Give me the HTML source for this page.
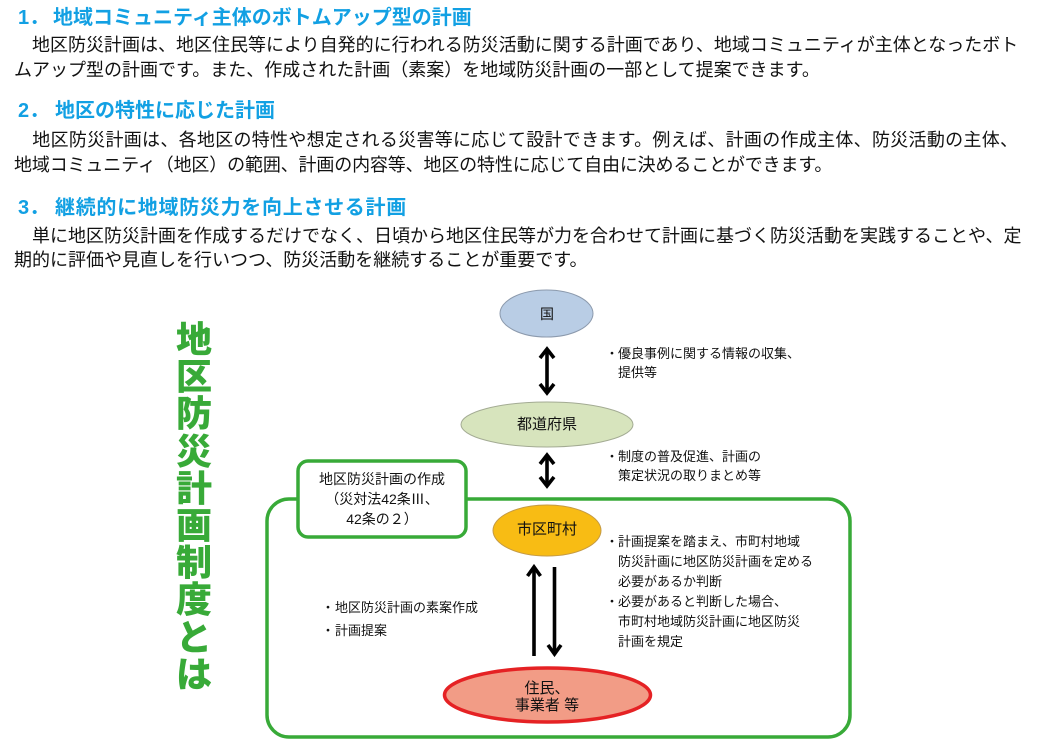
<!DOCTYPE html>
<html><head><meta charset="utf-8">
<style>
html,body{margin:0;padding:0;background:#fff;}
body{width:1042px;height:752px;position:relative;overflow:hidden;font-family:"Liberation Sans","Noto Sans CJK JP",sans-serif;color:#111;}
.a{position:absolute;white-space:nowrap;}
.h{font-size:20px;line-height:24px;color:#12a0e3;font-weight:bold;}
.bd{font-size:18px;line-height:25px;left:14px;width:1004px;}
.j{text-align:justify;text-align-last:justify;}
.s{font-size:13px;line-height:20px;}
.c{text-align:center;}
.t{font-size:36px;line-height:37.2px;font-weight:900;color:#38aa38;width:40px;text-align:center;}
</style></head><body>

<div class="a h" style="left:18px;top:5.5px;">1．</div>
<div class="a h" style="left:53px;top:5.5px;">地域コミュニティ主体のボトムアップ型の計画</div>
<div class="a bd j" style="top:32.5px;">　地区防災計画は、地区住民等により自発的に行われる防災活動に関する計画であり、地域コミュニティが主体となったボト</div>
<div class="a bd" style="top:57.5px;">ムアップ型の計画です。また、作成された計画（素案）を地域防災計画の一部として提案できます。</div>

<div class="a h" style="left:18px;top:98.5px;">2．</div>
<div class="a h" style="left:55px;top:98.5px;">地区の特性に応じた計画</div>
<div class="a bd j" style="top:127.5px;">　地区防災計画は、各地区の特性や想定される災害等に応じて設計できます。例えば、計画の作成主体、防災活動の主体、</div>
<div class="a bd" style="top:152.5px;letter-spacing:-0.15px;">地域コミュニティ（地区）の範囲、計画の内容等、地区の特性に応じて自由に決めることができます。</div>

<div class="a h" style="left:18px;top:196px;">3．</div>
<div class="a h" style="left:55px;top:196px;letter-spacing:0.7px;">継続的に地域防災力を向上させる計画</div>
<div class="a bd j" style="top:223.5px;">　単に地区防災計画を作成するだけでなく、日頃から地区住民等が力を合わせて計画に基づく防災活動を実践することや、定</div>
<div class="a bd" style="top:247.5px;">期的に評価や見直しを行いつつ、防災活動を継続することが重要です。</div>

<!-- vertical title -->
<div class="a t" style="left:174px;top:321px;">地<br>区<br>防<br>災<br>計<br>画<br>制<br>度<br>と<br>は</div>

<svg class="a" style="left:0;top:0;" width="1042" height="752" viewBox="0 0 1042 752">
  <rect x="267" y="499" width="583" height="238" rx="22" ry="22" fill="none" stroke="#38aa38" stroke-width="3.5"/>
  <rect x="298" y="461" width="168" height="76" rx="10" ry="10" fill="#fff" stroke="#38aa38" stroke-width="3.5"/>
  <ellipse cx="546.5" cy="313.5" rx="46.5" ry="23.5" fill="#b9cde5" stroke="#8c9aad" stroke-width="1"/>
  <ellipse cx="547" cy="424.5" rx="86" ry="22.5" fill="#d7e4bd" stroke="#a3ab93" stroke-width="1"/>
  <ellipse cx="547" cy="530.5" rx="54" ry="25.5" fill="#f8bc14" stroke="#c49a45" stroke-width="1"/>
  <ellipse cx="547.5" cy="695" rx="103" ry="27" fill="#f29c86" stroke="#e52224" stroke-width="3.5"/>
  <g stroke="#000" stroke-width="3.6" fill="none" stroke-linejoin="miter" stroke-miterlimit="10">
    <line x1="547" y1="349" x2="547" y2="393"/>
    <polyline points="540,358 547,349 554,358"/>
    <polyline points="540,384 547,393 554,384"/>
    <line x1="547" y1="455" x2="547" y2="486"/>
    <polyline points="540,464 547,455 554,464"/>
    <polyline points="540,477 547,486 554,477"/>
    <line x1="534" y1="567" x2="534" y2="656"/>
    <polyline points="527.5,576 534,567 540.5,576"/>
    <line x1="554.5" y1="567" x2="554.5" y2="654"/>
    <polyline points="548,645 554.5,654 561,645"/>
  </g>
</svg>

<div class="a c" style="left:507px;width:80px;top:304px;font-size:14px;line-height:20px;">国</div>
<div class="a c" style="left:487px;width:120px;top:414px;font-size:15px;line-height:22px;">都道府県</div>
<div class="a c" style="left:487px;width:120px;top:519px;font-size:15px;line-height:22px;">市区町村</div>
<div class="a c" style="left:467px;width:160px;top:680px;font-size:15px;line-height:17px;">住民、<br>事業者 等</div>

<div class="a c" style="left:298px;width:168px;top:469px;font-size:14px;line-height:20px;">地区防災計画の作成<br>（災対法42条Ⅲ、<br>42条の２）</div>

<div class="a s" style="left:605.5px;top:344px;">・</div>
<div class="a s" style="left:618px;top:344px;">優良事例に関する情報の収集、</div>
<div class="a s" style="left:618px;top:363px;">提供等</div>
<div class="a s" style="left:605.5px;top:447px;">・</div>
<div class="a s" style="left:618px;top:447px;">制度の普及促進、計画の</div>
<div class="a s" style="left:618px;top:466px;">策定状況の取りまとめ等</div>

<div class="a s" style="left:605.5px;top:532px;">・</div>
<div class="a s" style="left:618px;top:532px;">計画提案を踏まえ、市町村地域</div>
<div class="a s" style="left:618px;top:552px;">防災計画に地区防災計画を定める</div>
<div class="a s" style="left:618px;top:571.5px;">必要があるか判断</div>
<div class="a s" style="left:605.5px;top:591.5px;">・</div>
<div class="a s" style="left:618px;top:591.5px;">必要があると判断した場合、</div>
<div class="a s" style="left:618px;top:611.5px;">市町村地域防災計画に地区防災</div>
<div class="a s" style="left:618px;top:631.5px;">計画を規定</div>

<div class="a s" style="left:321.5px;top:598px;">・</div>
<div class="a s" style="left:335px;top:598px;">地区防災計画の素案作成</div>
<div class="a s" style="left:321.5px;top:621px;">・</div>
<div class="a s" style="left:335px;top:621px;">計画提案</div>

</body></html>
